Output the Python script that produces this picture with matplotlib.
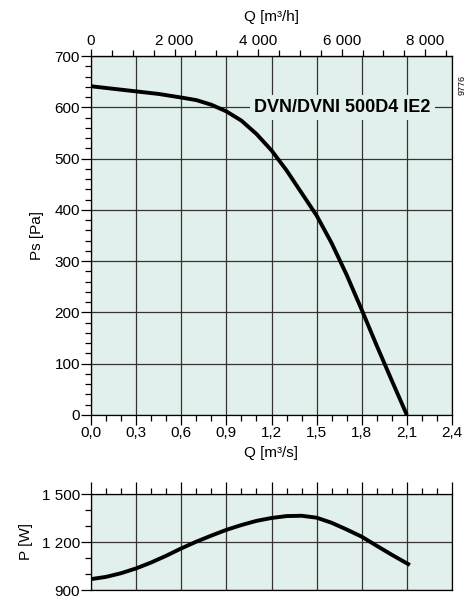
import matplotlib
matplotlib.use("Agg")
import matplotlib.pyplot as plt
import numpy as np

plt.rcParams['font.family'] = ['Liberation Sans', 'DejaVu Sans']

# Pressure curve
q_ps = [0.0, 0.15, 0.3, 0.45, 0.6, 0.7, 0.8, 0.9, 1.0, 1.1, 1.2, 1.3, 1.4, 1.5,
        1.6, 1.7, 1.8, 1.9, 2.0, 2.1]
ps = [641, 636, 631, 626, 619, 614, 605, 592, 574, 548, 516, 477, 433, 389,
      335, 273, 205, 135, 67, 0]

# Power curve
q_p = [0.0, 0.1, 0.2, 0.3, 0.4, 0.5, 0.6, 0.7, 0.8, 0.9, 1.0, 1.1, 1.2, 1.3, 1.4,
       1.5, 1.6, 1.7, 1.8, 1.9, 2.0, 2.12]
pw = [968, 982, 1005, 1035, 1072, 1114, 1160, 1202, 1240, 1276, 1306, 1332, 1350,
      1362, 1364, 1352, 1320, 1278, 1233, 1176, 1120, 1056]

x_ticks = [0.0, 0.3, 0.6, 0.9, 1.2, 1.5, 1.8, 2.1, 2.4]
x_labels = ['0,0', '0,3', '0,6', '0,9', '1,2', '1,5', '1,8', '2,1', '2,4']
y_ticks = [0, 100, 200, 300, 400, 500, 600, 700]
y_labels = ['0', '100', '200', '300', '400', '500', '600', '700']
top_ticks = [0, 2000, 4000, 6000, 8000]
top_labels = ['0', '2 000', '4 000', '6 000', '8 000']
p_ticks = [900, 1200, 1500]
p_labels = ['900', '1 200', '1 500']
model = 'DVN/DVNI 500D4 IE2'

BG = '#E1F0EC'
GRID = '#333333'
FS = 11

fig = plt.figure(figsize=(4.70, 6.01), dpi=100)
W, H = 470, 601

def rect(l, t, r, b):
    return [l / W, 1 - b / H, (r - l) / W, (b - t) / H]

ax = fig.add_axes(rect(91, 56, 452, 415))
ax.set_facecolor(BG)
ax.set_xlim(0, 2.4)
ax.set_ylim(0, 700)
ax.set_xticks(x_ticks)
ax.set_xticklabels(x_labels, fontsize=FS)
ax.set_xticks(np.arange(0, 2.41, 0.1), minor=True)
ax.set_yticks(y_ticks)
ax.set_yticklabels(y_labels, fontsize=FS)
ax.set_yticks(np.arange(0, 701, 20), minor=True)
ax.tick_params(axis='both', which='major', direction='out', length=7, width=0.9, pad=1)
ax.tick_params(axis='both', which='minor', direction='out', length=4, width=0.9)
ax.grid(True, which='major', color=GRID, lw=0.9)
for s in ax.spines.values():
    s.set_linewidth(0.9)
ax.plot(q_ps, ps, color='black', lw=2.8, solid_capstyle='butt', solid_joinstyle='round', zorder=3)
ax.set_xlabel('Q [m³/s]', fontsize=FS, labelpad=4)
ax.set_ylabel('Ps [Pa]', fontsize=FS)
ax.text(1.672, 600, model, fontsize=13, fontweight='bold', ha='center', va='center',
        zorder=4, bbox=dict(facecolor=BG, edgecolor='none', pad=3))

sec = ax.secondary_xaxis('top', functions=(lambda q: q * 3600, lambda h: h / 3600))
sec.set_xticks(top_ticks)
sec.set_xticklabels(top_labels, fontsize=FS)
sec.set_xticks(np.arange(0, 8641, 500), minor=True)
sec.tick_params(which='major', direction='out', length=5, width=0.9, pad=1)
sec.tick_params(which='minor', direction='out', length=4, width=0.9)
sec.set_xlabel('Q [m³/h]', fontsize=FS, labelpad=9)

fig.text(462 / W, 1 - 85 / H, '9776', fontsize=6.5, rotation=90, ha='center', va='center')

ax2 = fig.add_axes(rect(91, 494, 452, 590))
ax2.set_facecolor(BG)
ax2.set_xlim(0, 2.4)
ax2.set_ylim(900, 1500)
ax2.set_xticks(x_ticks)
ax2.set_xticks(np.arange(0, 2.41, 0.1), minor=True)
ax2.set_yticks(p_ticks)
ax2.set_yticklabels(p_labels, fontsize=FS)
ax2.set_yticks(np.arange(900, 1501, 100), minor=True)
ax2.tick_params(axis='x', which='both', bottom=False, labelbottom=False, top=True, direction='out')
ax2.tick_params(axis='x', which='major', length=9, width=0.9)
ax2.tick_params(axis='x', which='minor', length=4.5, width=0.9)
ax2.tick_params(axis='y', which='major', direction='out', length=7, width=0.9, pad=1)
ax2.tick_params(axis='y', which='minor', direction='out', length=4, width=0.9)
ax2.grid(True, which='major', color=GRID, lw=0.9)
for s in ax2.spines.values():
    s.set_linewidth(0.9)
ax2.plot(q_p, pw, color='black', lw=2.8, solid_capstyle='butt', solid_joinstyle='round', zorder=3)
ax2.set_ylabel('P [W]', fontsize=FS)

ax.yaxis.set_label_coords((44 - 91) / 361, 0.5)
ax2.yaxis.set_label_coords((33 - 91) / 361, 0.5)

fig.savefig('out.png', dpi=100)
